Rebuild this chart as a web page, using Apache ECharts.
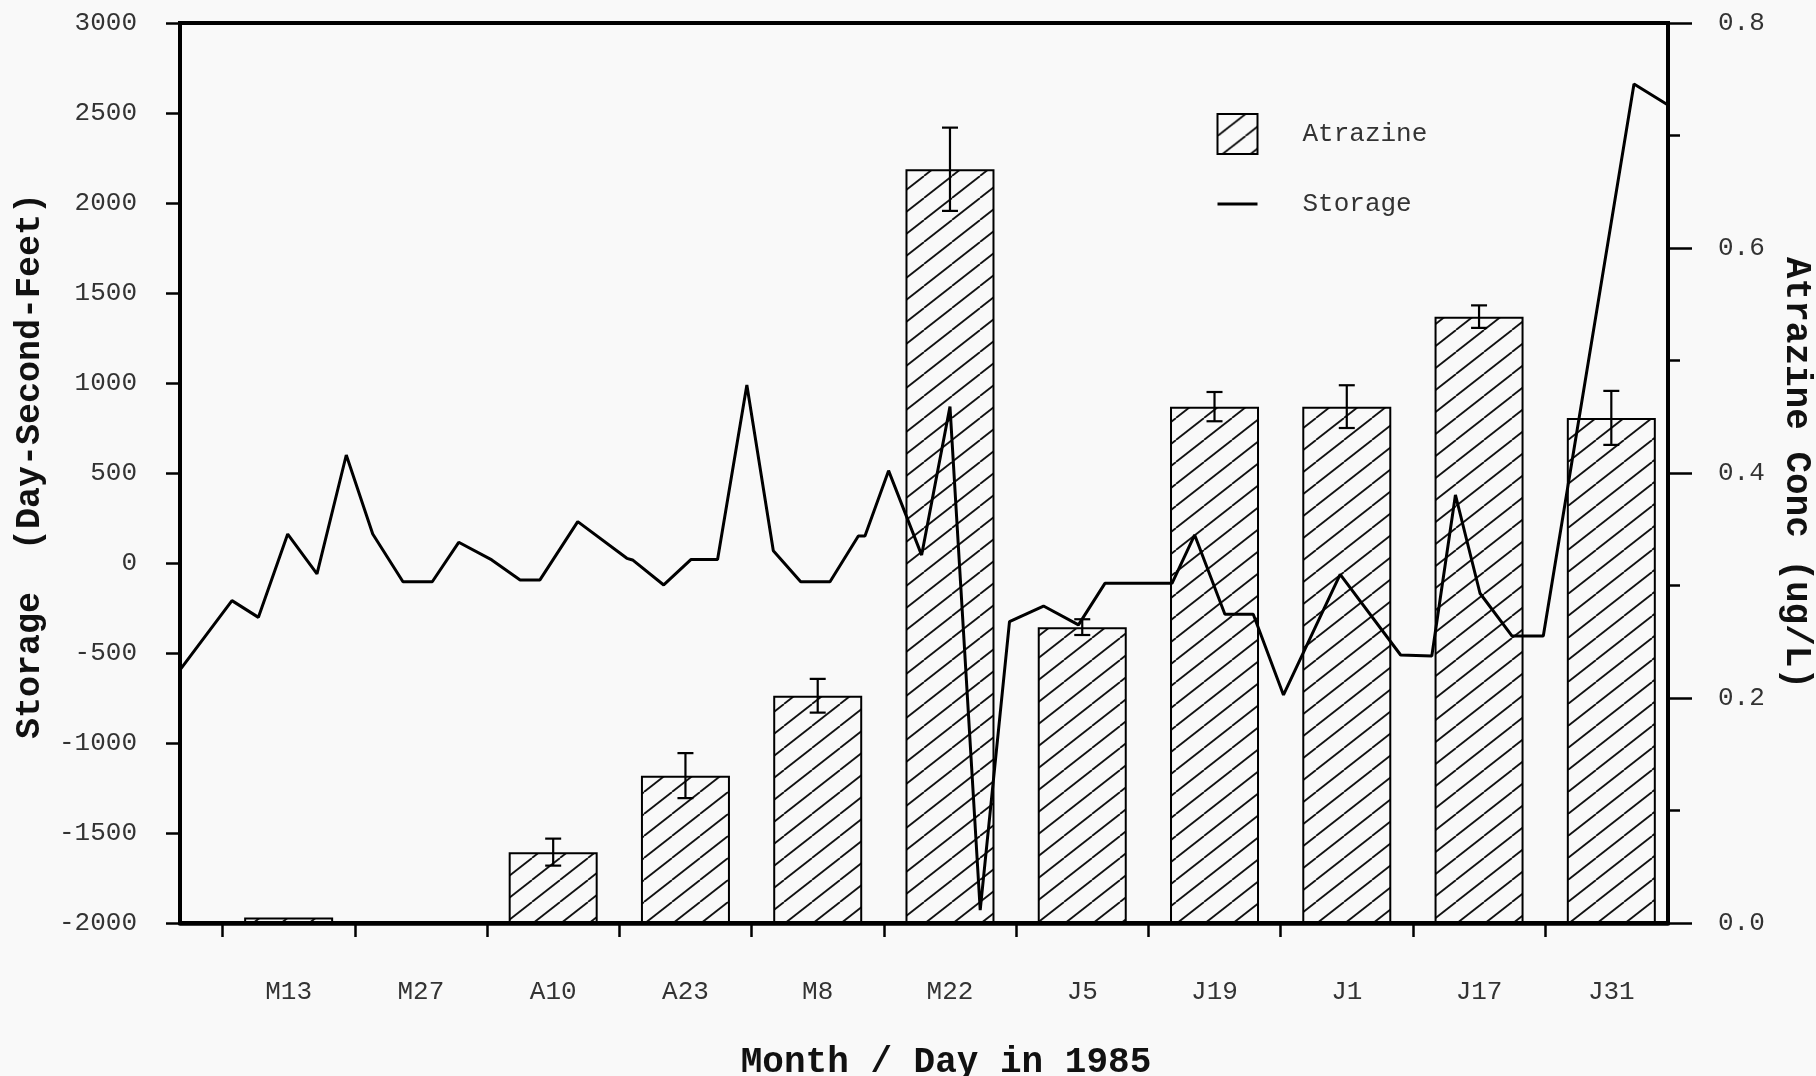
<!DOCTYPE html>
<html>
<head>
<meta charset="utf-8">
<script src="https://cdn.jsdelivr.net/npm/echarts@6/dist/echarts.min.js"></script>
<style>
  html, body { margin: 0; padding: 0; background: #f9f9f9; }
  #chart { width: 1816px; height: 1076px; }
</style>
</head>
<body>
<div id="chart"></div>
<script>
// ---- data (x in days; ticks every 14 days, bars centred between ticks) ----
const xLabels = ['M13', 'M27', 'A10', 'A23', 'M8', 'M22', 'J5', 'J19', 'J1', 'J17', 'J31'];
const barDays = [7, 21, 35, 49, 63, 77, 91, 105, 119, 133, 147];
const tickDays = [0, 14, 28, 42, 56, 70, 84, 98, 112, 126, 140];
const atrazine = [0.005, 0, 0.063, 0.131, 0.202, 0.670, 0.263, 0.459, 0.459, 0.539, 0.449];
const atrazineErr = [0, 0, 0.012, 0.020, 0.015, 0.037, 0.007, 0.013, 0.019, 0.010, 0.024];
const storageDays = [-4.5, 1.0, 3.8, 6.9, 10.0, 13.1, 15.9, 19.1, 22.2, 25.0, 28.5, 31.5, 33.6, 37.6,
  42.8, 43.4, 46.7, 49.6, 52.4, 55.5, 58.3, 61.2, 64.3, 67.3, 68.0, 70.5, 74.0, 77.0, 80.2, 83.3,
  86.9, 90.6, 93.4, 100.5, 102.9, 106.1, 109.1, 112.3, 118.3, 124.7, 128.0, 130.5, 133.1, 136.5,
  139.8, 149.4, 153.0];
const storageValues = [-594, -209, -302, 161, -61, 600, 161, -104, -104, 115, 17, -94, -94, 230,
  26, 17, -122, 20, 20, 989, 68, -104, -104, 150, 150, 513, 44, 869, -1928, -326,
  -239, -344, -113, -113, 156, -285, -285, -733, -63, -511, -517, 378, -168, -406,
  -406, 2661, 2544];
const leftTicks = { min: -2000, max: 3000, step: 500 };
const rightTicks = { min: 0, max: 0.8, step: 0.2 };

// ---- hatch pattern ----
function makeHatch() {
  const W = 28, H = 22;
  const c = document.createElement('canvas');
  c.width = W; c.height = H;
  const g = c.getContext('2d');
  g.fillStyle = '#f9f9f9';
  g.fillRect(0, 0, W, H);
  g.strokeStyle = '#111';
  g.lineWidth = 1.8;
  [[-W, 0], [0, 0], [W, 0]].forEach(([ox, oy]) => {
    g.beginPath();
    g.moveTo(ox, H + oy);
    g.lineTo(ox + W, oy);
    g.stroke();
  });
  return c;
}
const hatch = { image: makeHatch(), repeat: 'repeat' };

const FONT = 'Liberation Mono';
const chart = echarts.init(document.getElementById('chart'), null, { renderer: 'canvas' });

const barData = barDays.map((d, i) => [d, atrazine[i]]);
const errData = barDays.map((d, i) => [d, atrazine[i], atrazineErr[i]]).filter(r => r[2] > 0);
const lineData = storageDays.map((d, i) => [d, storageValues[i]]);

chart.setOption({
  animation: false,
  backgroundColor: '#f9f9f9',
  grid: {
    left: 180, right: 148, top: 23, bottom: 153,
    containLabel: false,
    outerBoundsMode: 'none',
    show: true, borderColor: '#000', borderWidth: 4, backgroundColor: 'transparent'
  },
  legend: {
    orient: 'vertical',
    left: 1211, top: 108,
    itemWidth: 40, itemHeight: 40, itemGap: 33,
    selectedMode: false,
    textStyle: { fontFamily: FONT, fontSize: 26, color: '#333', padding: [0, 0, 0, 40] },
    data: [
      { name: 'Atrazine', icon: 'rect', itemStyle: { color: hatch, borderColor: '#000', borderWidth: 2 } },
      { name: 'Storage', itemStyle: { color: 'transparent', borderWidth: 0, opacity: 0 }, lineStyle: { color: '#000', width: 3 } }
    ]
  },
  xAxis: {
    type: 'value',
    min: -4.5, max: 153,
    name: 'Month / Day in 1985',
    nameLocation: 'middle',
    nameGap: 122,
    nameTextStyle: { fontFamily: FONT, fontSize: 36, fontWeight: 'bold', color: '#111', padding: [0, 0, 0, 44] },
    axisLine: { onZero: false, lineStyle: { color: '#000', width: 4.5 } },
    axisTick: { customValues: tickDays, length: 14, lineStyle: { color: '#000', width: 2.5 } },
    axisLabel: {
      customValues: barDays,
      formatter: v => xLabels[barDays.indexOf(v)],
      margin: 56, fontFamily: FONT, fontSize: 26, color: '#333'
    },
    splitLine: { show: false }
  },
  yAxis: [
    {
      type: 'value',
      min: leftTicks.min, max: leftTicks.max, interval: leftTicks.step,
      name: 'Storage  (Day-Second-Feet)',
      nameLocation: 'middle',
      nameGap: 122,
      nameTextStyle: { fontFamily: FONT, fontSize: 35, fontWeight: 'bold', color: '#111', padding: [0, 0, 0, 14] },
      axisLine: { show: true, onZero: false, lineStyle: { color: '#000', width: 3.5 } },
      axisTick: { show: true, length: 14, lineStyle: { color: '#000', width: 2.5 } },
      axisLabel: { margin: 43, fontFamily: FONT, fontSize: 26, color: '#333', formatter: v => String(v) },
      splitLine: { show: false }
    },
    {
      type: 'value',
      position: 'right',
      min: rightTicks.min, max: rightTicks.max, interval: rightTicks.step,
      name: 'Atrazine Conc (ug/L)',
      nameLocation: 'middle',
      nameRotate: -90,
      nameGap: 110,
      nameTextStyle: { fontFamily: FONT, fontSize: 36, fontWeight: 'bold', color: '#111' },
      axisLine: { show: true, onZero: false, lineStyle: { color: '#000', width: 3.5 } },
      axisTick: { show: true, length: 24, lineStyle: { color: '#000', width: 2.5 } },
      minorTick: { show: true, splitNumber: 2, length: 12, lineStyle: { color: '#000', width: 2.5 } },
      axisLabel: { margin: 50, fontFamily: FONT, fontSize: 26, color: '#333', formatter: v => v.toFixed(1) },
      splitLine: { show: false }
    }
  ],
  series: [
    {
      name: 'Atrazine',
      type: 'bar',
      xAxisIndex: 0, yAxisIndex: 1,
      barWidth: 89,
      data: barData,
      itemStyle: { color: hatch, borderColor: '#000', borderWidth: 2 },
      z: 2
    },
    {
      name: 'Atrazine error',
      type: 'custom',
      xAxisIndex: 0, yAxisIndex: 1,
      data: errData,
      z: 4,
      renderItem: function (params, api) {
        const x = api.value(0), y = api.value(1), e = api.value(2);
        const top = api.coord([x, y + e]);
        const bot = api.coord([x, y - e]);
        const hw = 8;
        const st = { stroke: '#000', lineWidth: 2.2 };
        return {
          type: 'group',
          children: [
            { type: 'line', shape: { x1: top[0], y1: top[1], x2: bot[0], y2: bot[1] }, style: st },
            { type: 'line', shape: { x1: top[0] - hw, y1: top[1], x2: top[0] + hw, y2: top[1] }, style: st },
            { type: 'line', shape: { x1: bot[0] - hw, y1: bot[1], x2: bot[0] + hw, y2: bot[1] }, style: st }
          ]
        };
      }
    },
    {
      name: 'Storage',
      type: 'line',
      xAxisIndex: 0, yAxisIndex: 0,
      data: lineData,
      symbol: 'none',
      lineStyle: { color: '#000', width: 3 },
      itemStyle: { color: '#000' },
      z: 5
    }
  ]
});
</script>
</body>
</html>
